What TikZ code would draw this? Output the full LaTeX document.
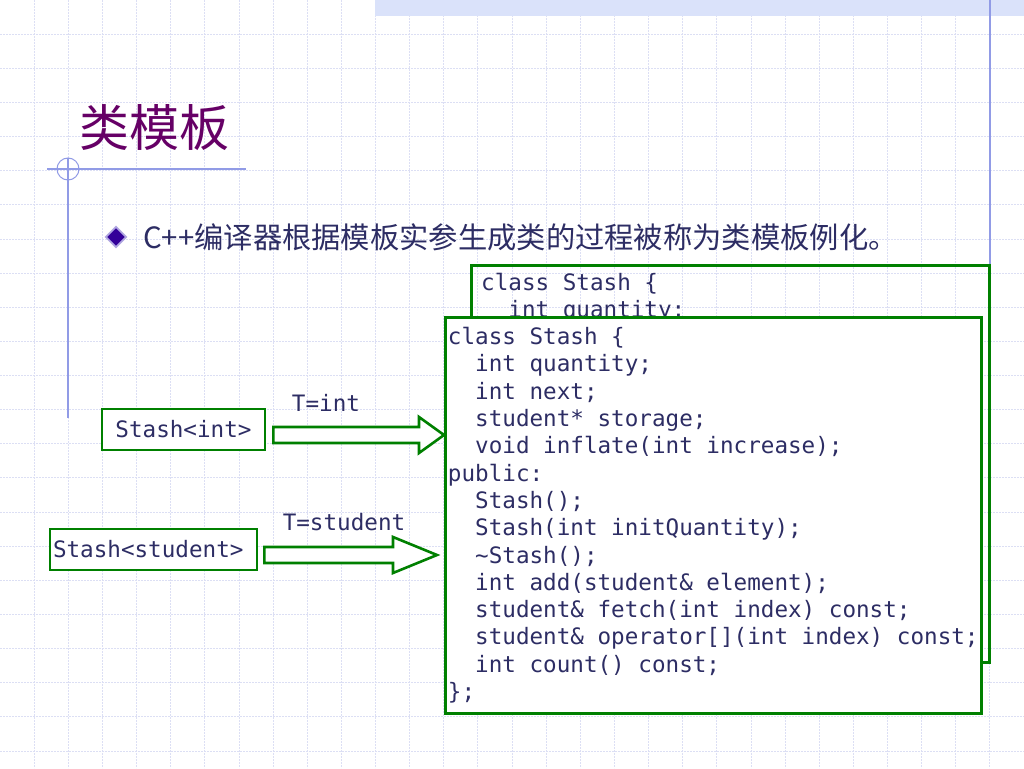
\documentclass[tikz,border=0pt]{standalone}
\usepackage{fontspec}
\setmonofont{DejaVu Sans Mono}
\newfontfamily\cjk{Noto Sans CJK SC}
\usetikzlibrary{shapes.geometric,calc}
\definecolor{boxgreen}{RGB}{0,128,0}
\definecolor{ink}{RGB}{45,45,100}
\definecolor{titlepurple}{RGB}{102,0,102}
\definecolor{gridblue}{RGB}{220,223,244}
\definecolor{ruleblue}{RGB}{145,155,230}
\definecolor{bandblue}{RGB}{218,226,250}
\newcommand{\codefont}{\ttfamily\fontsize{22.6}{27.3}\selectfont}
\tikzset{box/.style={draw=boxgreen, line width=2.6pt}}
\tikzset{code/.style={font=\codefont, text=ink, align=left}}
\tikzset{blockarrow/.style={draw=boxgreen, line width=2.6pt, fill=white, line join=miter}}
\tikzset{gridline/.style={gridblue, line width=0.8pt, dash pattern=on 2pt off 1pt}}
\newcommand{\ii}{\hphantom{xx}}

\begin{document}
\begin{tikzpicture}[x=1pt, y=-1pt]
    \fill[white] (0,0) rectangle (1024,768);
    \useasboundingbox (0,0) rectangle (1024,768);
    \foreach \i in {1,...,29} \draw[gridline] (\i*34.133,0) -- (\i*34.133,768);
    \foreach \j in {1,...,22} \draw[gridline] (0,\j*34.133) -- (1024,\j*34.133);
    \fill[bandblue] (375,0) rectangle (1024,16);
    \draw[ruleblue, line width=1.2pt] (990,0) -- (990,264);
    \draw[ruleblue, line width=1.2pt] (47,169) -- (246,169);
    \draw[ruleblue, line width=1.2pt] (68,158) -- (68,418);
    \draw[ruleblue, line width=1pt] (68,169) circle (11);
    \node[anchor=west, inner sep=0pt, text=titlepurple, font=\cjk\fontsize{50}{50}\selectfont] (title) at (79,128) {类模板};
    \node[diamond, minimum size=21, inner sep=0pt, fill={rgb,255:red,51;green,0;blue,153}, draw={rgb,255:red,175;green,165;blue,225}, line width=1.8pt] (bul) at (116,237) {};
    \node[anchor=west, inner sep=0pt, text=ink, font=\cjk\fontsize{29.3}{29.3}\selectfont] (intro) at (143,237) {C++编译器根据模板实参生成类的过程被称为类模板例化。};
    \node[box, minimum width=518, minimum height=397, anchor=north west] (back) at (470,264) {};
    \node[code, anchor=north west, inner sep=0pt] (backcode) at (481,273) {class Stash \{\\\ii int quantity;};
    \node[box, code, fill=white, anchor=north west, minimum width=536, minimum height=396, inner xsep=2, inner ysep=0] (front) at (444,316) {class Stash \{\\
\ii int quantity;\\
\ii int next;\\
\ii student* storage;\\
\ii void inflate(int increase);\\
public:\\
\ii Stash();\\
\ii Stash(int initQuantity);\\
\ii \textasciitilde Stash();\\
\ii int add(student\& element);\\
\ii student\& fetch(int index) const;\\
\ii student\& operator[](int index) const;\\
\ii int count() const;\\
\};};
    \node[box, code, fill=white, minimum width=163, minimum height=41] (intbox) at (183.5,429.5) {Stash<int>};
    \node[box, code, fill=white, minimum width=207, minimum height=41, inner xsep=2] (stubox) at (153.5,549.5) {\makebox[201pt][l]{Stash<student>}};
    \node[code] (Tint) at (326,403) {T=int};
    \node[code] (Tstu) at (344,522) {T=student};
    \coordinate (s1) at ($(intbox.east)+(7,5.5)$);
    \coordinate (s2) at ($(stubox.east)+(6,5.5)$);
    \draw[blockarrow] let \p1=(s1), \p2=(s1 -| front.west) in (\x1,\y1+8) -- (\x2-25,\y1+8) -- (\x2-25,\y1+18) -- (\x2,\y1) -- (\x2-25,\y1-18) -- (\x2-25,\y1-8) -- (\x1,\y1-8) -- cycle;
    \draw[blockarrow] let \p1=(s2), \p2=(s2 -| front.west) in (\x1,\y1+8) -- (\x2-51,\y1+8) -- (\x2-51,\y1+18) -- (\x2-7,\y1) -- (\x2-51,\y1-18) -- (\x2-51,\y1-8) -- (\x1,\y1-8) -- cycle;
\end{tikzpicture}
\end{document}
